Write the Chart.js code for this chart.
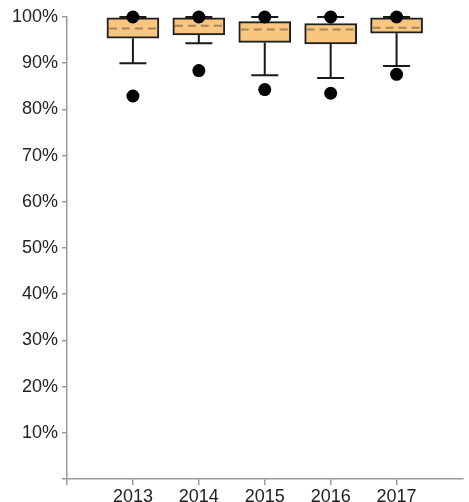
<!DOCTYPE html>
<html lang="en">
<head>
<meta charset="UTF-8">
<title>Box plot 2013-2017</title>
<script src="https://cdn.jsdelivr.net/npm/chart.js"></script>
<style>
  html, body { margin: 0; padding: 0; background: #fff; }
  #wrap { width: 469px; height: 502px; }
</style>
</head>
<body>
<div id="wrap"><canvas id="box"></canvas></div>
<script>
// yearly distributions, in percent
const years = [2013, 2014, 2015, 2016, 2017];
const minimum = [82.9, 88.4, 84.3, 83.5, 87.6];
const lowWhisker = [90.0, 94.3, 87.4, 86.8, 89.4];
const lowerQuartile = [95.4, 96.1, 94.5, 94.2, 96.5];
const mean = [97.5, 98.1, 97.3, 97.3, 97.7];
const upperQuartile = [99.8, 99.8, 99.0, 98.6, 99.8];
const highWhisker = [100, 100, 100, 100, 100];
const maximum = [100, 100, 100, 100, 100];
const yTicks = [0, 10, 20, 30, 40, 50, 60, 70, 80, 90, 100];

const axisColor = '#9a9a9a';
const textColor = '#222';
const font = { family: "'Liberation Sans', Arial, sans-serif", size: 18 };

// whiskers go under the boxes, the dashed mean line on top of them
const boxExtras = {
  id: 'boxExtras',
  beforeDatasetsDraw(chart) {
    const { ctx, scales: { x, y } } = chart;
    ctx.save();
    ctx.strokeStyle = '#1a1a1a';
    ctx.lineWidth = 2;
    years.forEach((yr, i) => {
      const cx = x.getPixelForValue(yr);
      const half = 13.5;
      [[lowWhisker[i], lowerQuartile[i]], [highWhisker[i], upperQuartile[i]]].forEach(([w, q]) => {
        const wy = y.getPixelForValue(w);
        ctx.beginPath();
        ctx.moveTo(cx, wy);
        ctx.lineTo(cx, y.getPixelForValue(q));
        ctx.moveTo(cx - half, wy);
        ctx.lineTo(cx + half, wy);
        ctx.stroke();
      });
    });
    ctx.restore();
  },
  afterDatasetDraw(chart, args) {
    if (args.meta.type !== 'bar') return;
    const { ctx, scales: { y } } = chart;
    ctx.save();
    ctx.strokeStyle = '#a5845a';
    ctx.lineWidth = 2;
    ctx.setLineDash([8, 5]);
    args.meta.data.forEach((bar, i) => {
      const my = y.getPixelForValue(mean[i]);
      ctx.beginPath();
      ctx.moveTo(bar.x - bar.width / 2 + 2, my);
      ctx.lineTo(bar.x + bar.width / 2 - 2, my);
      ctx.stroke();
    });
    ctx.restore();
  }
};

const points = years.flatMap((yr, i) => [
  { x: yr, y: minimum[i] },
  { x: yr, y: maximum[i] }
]);

new Chart(document.getElementById('box'), {
  type: 'bar',
  data: {
    datasets: [
      {
        type: 'scatter',
        data: points,
        backgroundColor: '#000',
        borderWidth: 0,
        pointRadius: 6.5,
        clip: false,
        order: 1
      },
      {
        type: 'bar',
        data: years.map((yr, i) => ({ x: yr, y: [lowerQuartile[i], upperQuartile[i]] })),
        backgroundColor: '#f8c67e',
        borderColor: '#1f1f1f',
        borderWidth: 2,
        borderSkipped: false,
        barThickness: 52,
        clip: false,
        order: 2
      }
    ]
  },
  options: {
    responsive: true,
    maintainAspectRatio: false,
    animation: false,
    layout: { padding: { top: 17, left: 0, right: 0, bottom: 0 } },
    plugins: { legend: { display: false }, tooltip: { enabled: false } },
    scales: {
      x: {
        type: 'linear',
        offset: false,
        min: 2012,
        max: 2018,
        afterBuildTicks: s => { s.ticks = [2012, ...years].map(v => ({ value: v })); },
        afterFit: s => { s.height = 23; },
        grid: { offset: false, drawOnChartArea: false, color: axisColor, tickLength: 6, lineWidth: 1.5 },
        border: { color: axisColor, width: 1.5 },
        ticks: {
          padding: 1,
          color: textColor,
          font,
          maxRotation: 0,
          autoSkip: false,
          callback: v => (v === 2012 ? '' : String(v))
        }
      },
      y: {
        min: 0,
        max: 100,
        afterBuildTicks: s => { s.ticks = yTicks.map(v => ({ value: v })); },
        afterFit: s => { s.width = 67; },
        grid: { drawOnChartArea: false, color: axisColor, tickLength: 5, lineWidth: 1.5 },
        border: { color: axisColor, width: 1.5 },
        ticks: {
          padding: 4,
          color: textColor,
          font,
          callback: v => (v === 0 ? '' : v + '%')
        }
      }
    }
  },
  plugins: [boxExtras]
});
</script>
</body>
</html>
